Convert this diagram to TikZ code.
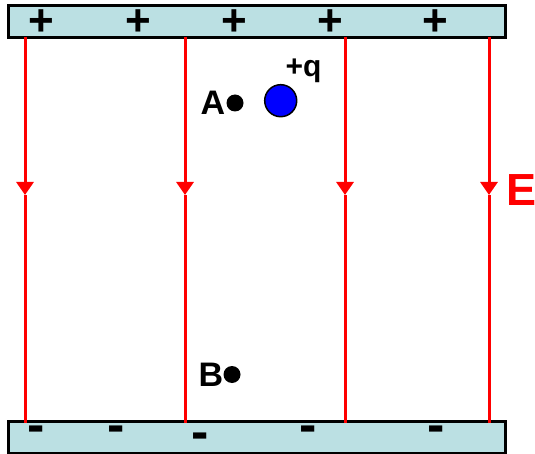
\documentclass[tikz,border=0pt]{standalone}
\usepackage{fontspec}
\setmainfont{Liberation Sans}
\usetikzlibrary{arrows.meta}
\definecolor{platefill}{RGB}{187,224,227}
\begin{document}
\begin{tikzpicture}[x=1pt,y=-1pt,
  plate/.style={draw=black,line width=2.5pt,fill=platefill,minimum width=497pt,minimum height=32pt,inner sep=0pt,anchor=center},
  fieldline/.style={draw=red,line width=3pt},
  tip/.style={-{Triangle[width=17pt,length=13pt]}},
  plus/.style={inner sep=0pt,font=\fontsize{44}{44}\selectfont\bfseries},
  minus/.style={inner sep=0pt,font=\fontsize{52}{52}\selectfont\bfseries},
  lbl/.style={inner sep=0pt,font=\fontsize{34}{34}\selectfont\bfseries},
  dot/.style={circle,fill=black,inner sep=0pt,minimum size=17pt}]
\useasboundingbox (0,0) rectangle (535,454);
% plates
\node[plate] (topplate) at (257.1,21.7) {};
\node[plate] (botplate) at (257.1,437.7) {};
% field lines
\foreach \i/\x in {1/25,2/185,3/345,4/489}{
  \coordinate (t\i) at (\x,37);
  \coordinate (m\i) at (\x,195);
  \coordinate (b\i) at (\x,423);
  \draw[fieldline,tip] (t\i) -- (m\i);
  \draw[fieldline] (m\i) -- (b\i);
}
% signs
\foreach \i/\x in {1/41.6,2/138,3/234,4/330,5/435}{
  \node[plus] (p\i) at (\x,23) {+};
}
\node[minus] (n1) at (36,434) {-};
\node[minus] (n2) at (116,434) {-};
\node[minus] (n3) at (200,441) {-};
\node[minus] (n4) at (308,434) {-};
\node[minus] (n5) at (436,434) {-};
% points
\node[dot] (dA) at (235,103) {};
\node[lbl,anchor=east] (A) at ([xshift=-1pt]dA.west) {A};
\node[dot] (dB) at (232,374.5) {};
\node[lbl,anchor=east] (B) at (dB.west) {B};
% charge
\node[circle,draw=black,line width=1.5pt,fill=blue,minimum size=32pt,inner sep=0pt] (q) at (280.7,100.7) {};
\node[inner sep=0pt,font=\fontsize{30}{30}\selectfont\bfseries] (ql) at (303.5,71) {+q};
% E label
\node[inner sep=0pt,text=red,font=\fontsize{45}{45}\selectfont\bfseries] (E) at (521.5,190) {E};
\end{tikzpicture}
\end{document}
